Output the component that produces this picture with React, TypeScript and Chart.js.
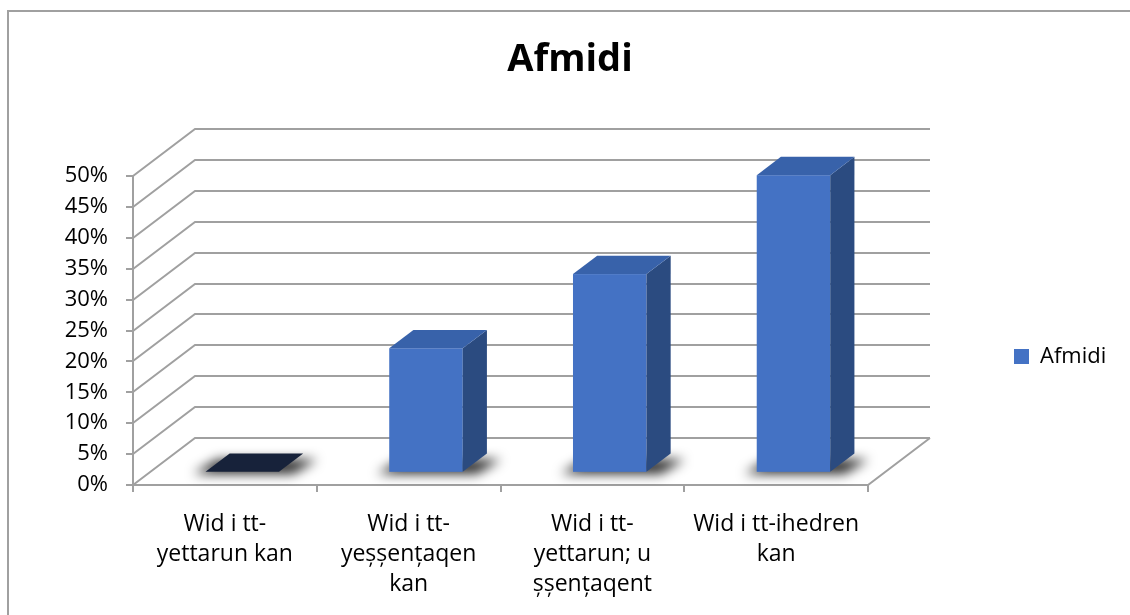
import React, { useEffect, useRef } from 'react';
import { Chart, registerables } from 'chart.js';

Chart.register(...registerables);

// ---- data ----
const categories: string[][] = [
  ['Wid i tt-', 'yettarun kan'],
  ['Wid i tt-', 'yeșșențaqen', 'kan'],
  ['Wid i tt-', 'yettarun; u', 'șșențaqent'],
  ['Wid i tt-ihedren', 'kan'],
];
const seriesName = 'Afmidi';
const values: number[] = [0, 20, 32, 48];
const yMin = 0;
const yMax = 50;
const yStep = 5;
const chartTitle = 'Afmidi';

// ---- style ----
const FONT = '"Open Sans", "Noto Sans", sans-serif';
const LINE = '#A0A0A0';
const DEPTH_X = 62;
const DEPTH_Y = -47;
const BAR_FRONT = 0.28;
const BAR_DEPTH = 0.39;
const FRONT_COLOR = '#4472C4';
const SIDE_COLOR = '#2B4B80';
const TOP_COLOR = '#3862AA';
const ZERO_COLOR = '#17223A';

const box3d = {
  id: 'box3d',
  afterLayout(chart: any) {
    const lg = chart.legend;
    if (lg) {
      const w = lg.width;
      const h = lg.height;
      lg.left = 1004;
      lg.right = 1004 + w;
      lg.top = 335.5;
      lg.bottom = 335.5 + h;
    }
    const tb = chart.titleBlock;
    if (tb) {
      tb.left = 10;
      tb.right = 1130;
      tb.width = 1120;
    }
  },
  beforeDatasetsDraw(chart: any) {
    const { ctx, chartArea: a, scales } = chart;
    const xs = scales.x;
    const ys = scales.y;
    ctx.save();
    ctx.strokeStyle = LINE;
    ctx.lineWidth = 2;
    ctx.lineCap = 'butt';
    ctx.beginPath();
    ys.ticks.forEach((t: any) => {
      const py = Math.round(ys.getPixelForValue(t.value));
      ctx.moveTo(a.left, py);
      ctx.lineTo(a.left + DEPTH_X, py + DEPTH_Y);
      ctx.lineTo(a.right + DEPTH_X, py + DEPTH_Y);
      ctx.moveTo(a.left - 7, py);
      ctx.lineTo(a.left, py);
    });
    ctx.moveTo(a.left, a.top);
    ctx.lineTo(a.left, a.bottom);
    ctx.moveTo(a.left, a.bottom);
    ctx.lineTo(a.right, a.bottom);
    ctx.lineTo(a.right + DEPTH_X, a.bottom + DEPTH_Y);
    const n = categories.length;
    const half = (xs.getPixelForValue(1) - xs.getPixelForValue(0)) / 2;
    for (let i = 0; i <= n; i++) {
      const px = Math.round(i < n ? xs.getPixelForValue(i) - half : xs.getPixelForValue(n - 1) + half);
      ctx.moveTo(px, a.bottom);
      ctx.lineTo(px, a.bottom + 7);
    }
    ctx.stroke();

    const meta = chart.getDatasetMeta(0);
    const ox = BAR_FRONT * DEPTH_X;
    const oy = BAR_FRONT * DEPTH_Y;
    const dx = BAR_DEPTH * DEPTH_X;
    const dy = BAR_DEPTH * DEPTH_Y;
    const foot = (L: number, R: number, B: number, ddx: number, ddy: number) => {
      ctx.beginPath();
      ctx.moveTo(L, B);
      ctx.lineTo(R, B);
      ctx.lineTo(R + ddx, B + ddy);
      ctx.lineTo(L + ddx, B + ddy);
      ctx.closePath();
    };
    meta.data.forEach((bar: any, i: number) => {
      const p = bar.getProps(['x', 'y', 'base', 'width'], true);
      const L = p.x - p.width / 2 + ox;
      const R = p.x + p.width / 2 + ox;
      const T = p.y + oy;
      const B = p.base + oy;
      // soft floor shadow
      ctx.save();
      ctx.filter = 'blur(6px)';
      ctx.fillStyle = 'rgba(0,0,0,0.85)';
      foot(L - 12, R + 14, B + 2, dx, dy + 4);
      ctx.fill();
      ctx.restore();
      if (values[i] === 0) {
        ctx.fillStyle = ZERO_COLOR;
        foot(L, R, B, dx, dy);
        ctx.fill();
        return;
      }
      ctx.fillStyle = FRONT_COLOR;
      ctx.fillRect(L, T, R - L, B - T);
      ctx.fillStyle = SIDE_COLOR;
      ctx.beginPath();
      ctx.moveTo(R, T);
      ctx.lineTo(R + dx, T + dy);
      ctx.lineTo(R + dx, B + dy);
      ctx.lineTo(R, B);
      ctx.closePath();
      ctx.fill();
      ctx.fillStyle = TOP_COLOR;
      ctx.beginPath();
      ctx.moveTo(L, T);
      ctx.lineTo(R, T);
      ctx.lineTo(R + dx, T + dy);
      ctx.lineTo(L + dx, T + dy);
      ctx.closePath();
      ctx.fill();
    });
    ctx.restore();
    return false;
  },
};

export default function App() {
  const ref = useRef<HTMLCanvasElement | null>(null);
  useEffect(() => {
    if (!ref.current) return;
    const chart = new Chart(ref.current, {
      type: 'bar',
      data: {
        labels: categories,
        datasets: [
          {
            label: seriesName,
            data: values,
            backgroundColor: FRONT_COLOR,
            borderWidth: 0,
            barPercentage: 0.4,
            categoryPercentage: 1,
          },
        ],
      },
      options: {
        responsive: false,
        animation: false,
        devicePixelRatio: 1,
        layout: { padding: { left: 0, right: 262, top: 0, bottom: 0 } },
        plugins: {
          title: {
            display: true,
            text: chartTitle,
            color: '#000',
            font: { family: FONT, size: 38, weight: 'bold', lineHeight: 1.2 },
            padding: { top: 37, bottom: 93.4 },
          },
          legend: {
            position: 'chartArea',
            align: 'start',
            labels: {
              boxWidth: 15,
              boxHeight: 15,
              color: '#000',
              padding: 10,
              font: { family: FONT, size: 22 },
            },
          },
          tooltip: { enabled: false },
        },
        scales: {
          x: {
            grid: { display: false, drawTicks: false },
            border: { display: false },
            ticks: {
              color: '#000',
              font: { family: FONT, size: 23, lineHeight: '30px' },
              padding: 24,
              maxRotation: 0,
              minRotation: 0,
              autoSkip: false,
            },
            afterFit: (s: any) => {
              s.height = 130;
            },
          },
          y: {
            min: yMin,
            max: yMax,
            grid: { display: false, drawTicks: false },
            border: { display: false },
            ticks: {
              stepSize: yStep,
              color: '#000',
              font: { family: FONT, size: 22 },
              padding: 25,
              callback: (v: any) => v + '%',
            },
            afterFit: (s: any) => {
              s.width = 133;
            },
          },
        },
      } as any,
      plugins: [box3d as any],
    });
    return () => chart.destroy();
  }, []);

  return (
    <div
      style={{
        position: 'fixed',
        left: 0,
        top: 0,
        width: 1130,
        height: 615,
        overflow: 'hidden',
        background: '#fff',
      }}
    >
      <div
        style={{
          position: 'absolute',
          left: 7,
          top: 10,
          width: 1200,
          height: 700,
          border: '2px solid #A0A0A0',
        }}
      />
      <canvas
        ref={ref}
        width={1130}
        height={615}
        style={{ position: 'absolute', left: 0, top: 0 }}
      />
    </div>
  );
}
